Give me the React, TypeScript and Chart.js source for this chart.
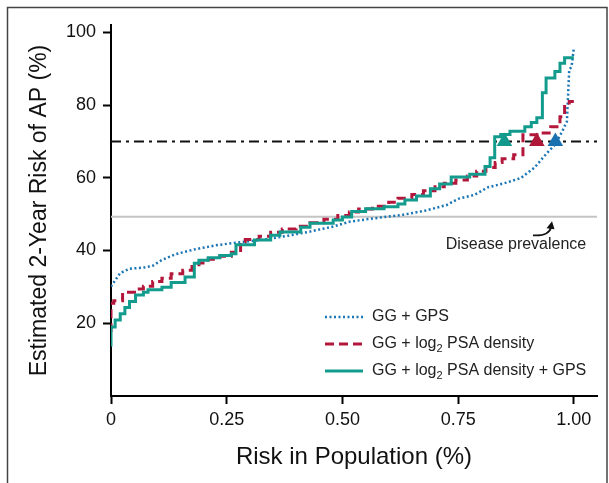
import React, { useEffect, useRef } from "react";
import { Chart, registerables } from "chart.js";

Chart.register(...registerables);

// ---------- data ----------
const xTickValues = [0, 0.25, 0.5, 0.75, 1.0];
const xTickLabels = ["0", "0.25", "0.50", "0.75", "1.00"];
const yTickValues = [20, 40, 60, 80, 100];

const seriesNames = [
  "GG + GPS",
  "GG + log2 PSA density",
  "GG + log2 PSA density + GPS",
];

// GG + log2 PSA density + GPS (teal, step)
const tealX = [0, 0.009, 0.02, 0.03, 0.04, 0.053, 0.07, 0.08, 0.11, 0.13, 0.16, 0.18, 0.19, 0.21, 0.235, 0.26, 0.27, 0.31, 0.345, 0.365, 0.41, 0.43, 0.48, 0.5, 0.52, 0.55, 0.59, 0.62, 0.635, 0.66, 0.69, 0.71, 0.735, 0.775, 0.808, 0.819, 0.829, 0.842, 0.862, 0.894, 0.908, 0.92, 0.932, 0.94, 0.959, 0.97, 0.98, 1.0];
const tealY = [13.6, 19, 20.9, 22.6, 24.3, 26, 27.8, 28.5, 29.2, 29.9, 31.2, 32.7, 36.5, 37.3, 38, 38.6, 39.1, 41.6, 42.9, 44.2, 45.1, 46.4, 47.5, 48.4, 49.2, 50.7, 51.5, 52, 52.8, 53.9, 55, 57, 58.3, 60.2, 61, 63.1, 65.5, 71.3, 71.9, 72.8, 74, 75.2, 76.5, 83.4, 87.4, 89.2, 91.5, 93];

// GG + log2 PSA density (red, dashed step)
const redX = [0, 0.006, 0.025, 0.055, 0.07, 0.09, 0.11, 0.13, 0.155, 0.175, 0.19, 0.21, 0.235, 0.26, 0.28, 0.29, 0.32, 0.345, 0.37, 0.4, 0.43, 0.46, 0.49, 0.515, 0.535, 0.565, 0.6, 0.62, 0.65, 0.675, 0.7, 0.72, 0.745, 0.77, 0.79, 0.81, 0.83, 0.845, 0.87, 0.89, 0.926, 0.95, 0.97, 0.98, 0.99, 1.0];
const redY = [17.5, 25.5, 26.2, 28.5, 29.4, 30.2, 31.5, 32.4, 33.6, 34.6, 35.6, 36.6, 37.6, 38.4, 39.5, 42.3, 43, 43.9, 45, 45.9, 46.7, 47.6, 48.6, 49.6, 50.6, 51.4, 52.2, 53.3, 54.4, 55.4, 56.4, 57.5, 58.5, 59.4, 60.5, 61.8, 62.8, 64.2, 65.2, 66.3, 71.8, 72.3, 74, 76.8, 79.6, 81];

// GG + GPS (blue, dotted)
const blueX = [0, 0.01, 0.02, 0.04, 0.07, 0.09, 0.11, 0.14, 0.18, 0.23, 0.28, 0.33, 0.38, 0.43, 0.48, 0.515, 0.565, 0.63, 0.68, 0.725, 0.75, 0.785, 0.815, 0.85, 0.885, 0.915, 0.94, 0.96, 0.975, 0.985, 0.99, 0.995, 1.0];
const blueY = [30.1, 32, 33.8, 35, 35.3, 35.8, 37.4, 39, 40.3, 41.5, 42.3, 43, 44, 45.2, 46.6, 47.9, 48.8, 49.8, 51, 52.5, 54.2, 55.3, 57.4, 58.5, 59.9, 62.8, 66.5, 69.2, 72.8, 75.5, 89.7, 90.5, 95.7];

const thresholdRisk = 70;
const diseasePrevalence = 49.3;
const triangleX = [0.85, 0.92, 0.96];
const triangleY = [70, 70, 70];
const triangleColors = ["#12998b", "#b0183a", "#1a71b0"];

const annotationText = "Disease prevalence";
const annotationX = 0.875;
const annotationY = 41.7;

// ---------- helpers ----------
const pts = (xs: number[], ys: number[]) => xs.map((x, i) => ({ x, y: ys[i] }));

const FONT = "'Liberation Sans', Arial, Helvetica, sans-serif";

const overlayPlugin = {
  id: "overlay",
  afterDraw(chart: any) {
    const ctx = chart.ctx as CanvasRenderingContext2D;
    const xs = chart.scales.x;
    const ys = chart.scales.y;
    ctx.save();

    // frame
    ctx.strokeStyle = "#444";
    ctx.lineWidth = 1.5;
    ctx.beginPath();
    ctx.moveTo(7.5, 483);
    ctx.lineTo(7.5, 7.5);
    ctx.lineTo(607, 7.5);
    ctx.lineTo(607, 483);
    ctx.stroke();

    // annotation text
    const tx = xs.getPixelForValue(annotationX);
    const ty = ys.getPixelForValue(annotationY);
    ctx.fillStyle = "#222";
    ctx.font = `16px ${FONT}`;
    ctx.textAlign = "center";
    ctx.textBaseline = "middle";
    ctx.fillText(annotationText, tx, ty);

    // curved arrow
    const sx = tx + 17, sy = ty - 9;
    const ex = tx + 35, ey = ty - 21;
    ctx.strokeStyle = "#111";
    ctx.lineWidth = 1.8;
    ctx.beginPath();
    ctx.moveTo(sx, sy);
    ctx.quadraticCurveTo(ex - 2, sy + 1, ex, ey + 4);
    ctx.stroke();
    ctx.fillStyle = "#111";
    ctx.beginPath();
    ctx.moveTo(ex + 1, ey - 2);
    ctx.lineTo(ex - 4.5, ey + 5);
    ctx.lineTo(ex + 3.5, ey + 6);
    ctx.closePath();
    ctx.fill();

    // legend
    const items = [
      { parts: ["GG + GPS"], color: "#1a75b5", dash: [2, 2.5], width: 2.5 },
      { parts: ["GG + log", "2", " PSA density"], color: "#b3173b", dash: [9, 5], width: 3 },
      { parts: ["GG + log", "2", " PSA density + GPS"], color: "#139c8d", dash: [], width: 3 },
    ];
    const rowY = [317, 344, 371];
    const lx0 = 325, lx1 = 363, textX = 372;
    ctx.textAlign = "left";
    ctx.textBaseline = "middle";
    items.forEach((it, i) => {
      const y = rowY[i];
      ctx.strokeStyle = it.color;
      ctx.lineWidth = it.width;
      ctx.setLineDash(it.dash);
      ctx.beginPath();
      ctx.moveTo(lx0, y);
      ctx.lineTo(lx1, y);
      ctx.stroke();
      ctx.setLineDash([]);
      let x = textX;
      ctx.fillStyle = "#222";
      it.parts.forEach((p, j) => {
        if (j === 1) {
          ctx.font = `11px ${FONT}`;
          ctx.fillText(p, x, y + 5);
          x += ctx.measureText(p).width;
        } else {
          ctx.font = `16px ${FONT}`;
          ctx.fillText(p, x, y);
          x += ctx.measureText(p).width;
        }
      });
    });

    ctx.restore();
  },
};

export default function App() {
  const canvasRef = useRef<HTMLCanvasElement | null>(null);

  useEffect(() => {
    if (!canvasRef.current) return;
    const chart = new Chart(canvasRef.current, {
      type: "line",
      data: {
        datasets: [
          {
            type: "scatter",
            label: "markers",
            data: pts(triangleX, triangleY),
            pointStyle: "triangle",
            pointRadius: 9,
            pointBackgroundColor: triangleColors,
            pointBorderColor: triangleColors,
            pointBorderWidth: 0,
            showLine: false,
          } as any,
          {
            label: seriesNames[2],
            data: pts(tealX, tealY),
            stepped: "after",
            borderColor: "#139c8d",
            borderWidth: 3,
            pointRadius: 0,
            fill: false,
          },
          {
            label: seriesNames[1],
            data: pts(redX, redY),
            stepped: "after",
            borderColor: "#b3173b",
            borderWidth: 3,
            borderDash: [9, 5],
            pointRadius: 0,
            fill: false,
          },
          {
            label: seriesNames[0],
            data: pts(blueX, blueY),
            borderColor: "#1a75b5",
            borderWidth: 2.5,
            borderDash: [2, 2.5],
            pointRadius: 0,
            fill: false,
          },
          {
            label: "threshold",
            data: [{ x: 0, y: thresholdRisk }, { x: 1.05, y: thresholdRisk }],
            borderColor: "#111",
            borderWidth: 2,
            borderDash: [10, 5, 3, 5],
            pointRadius: 0,
          },
          {
            label: "prevalence",
            data: [{ x: 0, y: diseasePrevalence }, { x: 1.05, y: diseasePrevalence }],
            borderColor: "#c4c4c4",
            borderWidth: 2,
            pointRadius: 0,
          },
        ],
      },
      options: {
        responsive: false,
        animation: false,
        devicePixelRatio: 1,
        layout: { padding: { top: 25, right: 12, left: 0, bottom: 0 } },
        plugins: {
          legend: { display: false },
          tooltip: { enabled: false },
        },
        scales: {
          x: {
            type: "linear",
            min: 0,
            max: 1.05,
            afterBuildTicks: (s: any) => {
              s.ticks = xTickValues.map((v) => ({ value: v }));
            },
            afterFit: (s: any) => {
              s.height = 87;
            },
            ticks: {
              autoSkip: false,
              maxRotation: 0,
              padding: 5,
              color: "#111",
              font: { size: 18, family: FONT },
              callback: (v: any) => {
                const i = xTickValues.indexOf(Number(v));
                return i >= 0 ? xTickLabels[i] : "";
              },
            },
            grid: {
              drawOnChartArea: false,
              drawTicks: true,
              tickLength: 8,
              tickWidth: 2,
              tickColor: "#000",
            },
            border: { color: "#000", width: 2 },
            title: {
              display: true,
              text: "Risk in Population (%)",
              color: "#111",
              font: { size: 24, family: FONT },
              padding: { top: 0, bottom: 11 },
            },
          },
          y: {
            type: "linear",
            min: 0,
            max: 102,
            afterBuildTicks: (s: any) => {
              s.ticks = yTickValues.map((v) => ({ value: v }));
            },
            afterFit: (s: any) => {
              s.width = 111;
            },
            ticks: {
              autoSkip: false,
              padding: 7,
              color: "#111",
              font: { size: 18, family: FONT },
            },
            grid: {
              drawOnChartArea: false,
              drawTicks: true,
              tickLength: 8,
              tickWidth: 2,
              tickColor: "#000",
            },
            border: { color: "#000", width: 2 },
            title: {
              display: true,
              text: "Estimated 2-Year Risk of AP (%)",
              color: "#111",
              font: { size: 23, family: FONT },
              padding: { top: 26, bottom: 0 },
            },
          },
        },
      },
      plugins: [overlayPlugin],
    });
    return () => chart.destroy();
  }, []);

  return (
    <div style={{ position: "absolute", left: 0, top: 0, width: 609, height: 483, background: "#fff" }}>
      <canvas ref={canvasRef} width={609} height={483} style={{ display: "block" }} />
    </div>
  );
}
